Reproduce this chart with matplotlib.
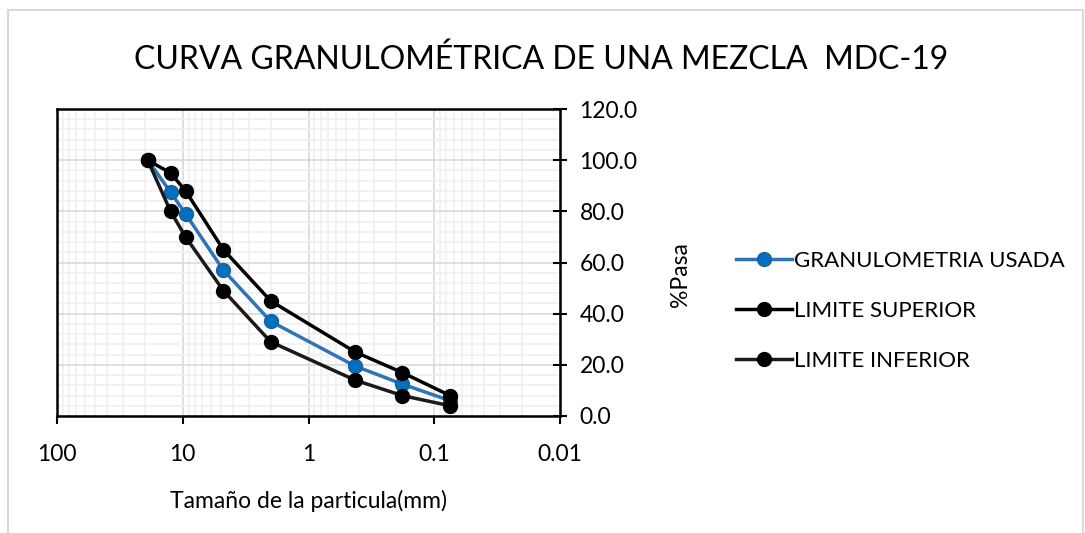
import numpy as np
import matplotlib.pyplot as plt
from matplotlib.patches import Rectangle
from matplotlib.ticker import FixedLocator, NullFormatter

plt.rcParams['font.family'] = ['Lato', 'DejaVu Sans']

# tamices (mm) y porcentajes que pasan
tamices = [19, 12.5, 9.5, 4.75, 2.0, 0.425, 0.180, 0.075]
usada = [100, 87.5, 79, 57, 37, 19.5, 12.5, 6]
superior = [100, 95, 88, 65, 45, 25, 17, 8]
inferior = [100, 80, 70, 49, 29, 14, 8, 4]

x_ticks = [100, 10, 1, 0.1, 0.01]
x_labels = ['100', '10', '1', '0.1', '0.01']
y_ticks = [0, 20, 40, 60, 80, 100, 120]

fig = plt.figure(figsize=(10.85, 5.33), dpi=100)
fig.patches.append(Rectangle((8 / 1085, -0.1), 1075 / 1085, 1.1 - 10 / 533,
                             transform=fig.transFigure, fill=False,
                             edgecolor='#d9d9d9', linewidth=1.5))

ax = fig.add_axes([57 / 1085, 117 / 533, 503 / 1085, 307 / 533])
ax.set_xscale('log')
ax.set_xlim(100, 0.01)
ax.set_ylim(0, 120)

# mallas
ax.xaxis.set_major_locator(FixedLocator(x_ticks))
minors = [m * 10.0 ** e for e in range(-2, 2) for m in range(2, 10)]
ax.xaxis.set_minor_locator(FixedLocator(minors))
ax.xaxis.set_minor_formatter(NullFormatter())
ax.set_yticks(y_ticks)
ax.set_yticks(np.arange(0, 121, 4), minor=True)
ax.grid(which='major', color='#d9d9d9', linewidth=1.2)
ax.grid(which='minor', color='#f0f0f0', linewidth=1.2)
ax.set_axisbelow(True)

ax.plot(tamices, usada, color='#2e75b6', linewidth=2.5, marker='o',
        markersize=10, markerfacecolor='#0070c0', markeredgecolor='#235e93',
        label='GRANULOMETRIA USADA', zorder=3)
ax.plot(tamices, superior, color='black', linewidth=2.5, marker='o',
        markersize=10, label='LIMITE SUPERIOR', zorder=4)
ax.plot(tamices, inferior, color='#1a1a1a', linewidth=2.5, marker='o',
        markersize=10, markerfacecolor='black', markeredgecolor='black',
        label='LIMITE INFERIOR', zorder=4)

ax.set_xticklabels(x_labels)
ax.yaxis.tick_right()
ax.set_yticklabels(['%.1f' % v for v in y_ticks])
ax.tick_params(axis='x', which='major', direction='out', length=6, width=1.5,
               labelsize=16.5, pad=14)
ax.tick_params(axis='y', which='major', direction='inout', length=10, width=1.5,
               labelsize=16.5, pad=9)
ax.tick_params(which='minor', length=0)
for s in ax.spines.values():
    s.set_linewidth(1.8)
    s.set_color('black')

ax.set_xlabel('Tamaño de la particula(mm)', fontsize=16.5, labelpad=18)
fig.text(680 / 1085, 1 - 275 / 533, '%Pasa', rotation=90, fontsize=16.5,
         ha='center', va='center')

fig.text(541 / 1085, 1 - 60 / 533, 'CURVA GRANULOMÉTRICA DE UNA MEZCLA  MDC-19',
         fontsize=23, ha='center', va='center')

fig.legend(loc='center left', bbox_to_anchor=(716 / 1085, 1 - 311 / 533),
           frameon=False, fontsize=16, handlelength=2.5, labelspacing=1.35,
           handletextpad=0.1)

fig.savefig('out.png', dpi=100)
